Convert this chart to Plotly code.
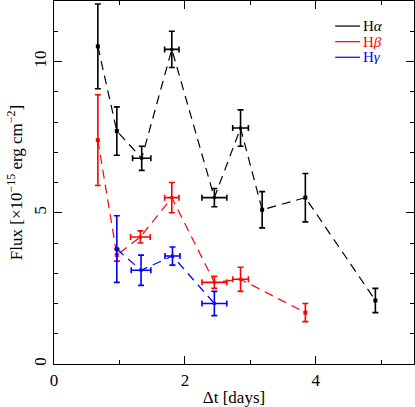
import plotly.graph_objects as go

# H-alpha
ha_t    = [0.67, 0.96, 1.34, 1.80, 2.45, 2.85, 3.18, 3.84, 4.91]
ha_terr = [0.0,  0.0,  0.14, 0.11, 0.19, 0.12, 0.0,  0.0,  0.0]
ha_f    = [10.5, 7.7,  6.8,  10.4, 5.5,  7.8,  5.1,  5.5,  2.1]
ha_ferr = [1.4,  0.8,  0.4,  0.6,  0.3,  0.6,  0.6,  0.8,  0.4]

# H-beta
hb_t    = [0.67, 0.96, 1.32, 1.80, 2.45, 2.85, 3.84]
hb_terr = [0.0,  0.0,  0.15, 0.11, 0.19, 0.12, 0.0]
hb_f    = [7.4,  3.6,  4.2,  5.5,  2.7,  2.8,  1.7]
hb_ferr = [1.5,  0.2,  0.2,  0.5,  0.2,  0.4,  0.3]

# H-gamma
hg_t    = [0.96, 1.33, 1.81, 2.45]
hg_terr = [0.0,  0.15, 0.115, 0.19]
hg_f    = [3.8,  3.1,  3.57, 2.0]
hg_ferr = [1.1,  0.5,  0.3,  0.4]

series = [
    ("H<i>α</i>", "black", ha_t, ha_terr, ha_f, ha_ferr),
    ("H<i>β</i>", "red", hb_t, hb_terr, hb_f, hb_ferr),
    ("H<i>γ</i>", "blue", hg_t, hg_terr, hg_f, hg_ferr),
]

font = "Liberation Serif"
fig = go.Figure()
line_step = 0.043  # legend row spacing (paper fraction)
for k, (name, col, t, te, f, fe) in enumerate(series):
    fig.add_trace(go.Scatter(x=t, y=f, mode="lines", line=dict(color=col, width=1.2, dash="9px,6px"),
                             showlegend=False, hoverinfo="skip"))
    idx = [i for i in range(len(t)) if te[i] > 0]
    fig.add_trace(go.Scatter(
        x=[t[i] for i in idx], y=[f[i] for i in idx], mode="markers",
        marker=dict(color=col, size=3, symbol="square"),
        error_x=dict(type="data", array=[te[i] for i in idx], color=col, thickness=1.6, width=3),
        error_y=dict(type="data", array=[fe[i] for i in idx], color=col, thickness=1.6, width=3),
        showlegend=False))
    idx = [i for i in range(len(t)) if te[i] == 0]
    fig.add_trace(go.Scatter(
        x=[t[i] for i in idx], y=[f[i] for i in idx], mode="markers",
        marker=dict(color=col, size=4, symbol="square"),
        error_y=dict(type="data", array=[fe[i] for i in idx], color=col, thickness=1.6, width=3),
        showlegend=False))
    ly = 0.931 - line_step * k
    fig.add_shape(type="line", xref="paper", yref="paper", x0=0.781, x1=0.85, y0=ly, y1=ly,
                  line=dict(color=col, width=1.2))
    fig.add_annotation(xref="paper", yref="paper", x=0.856, y=ly, xanchor="left", yanchor="middle",
                       text=name, showarrow=False, height=14, borderpad=0,
                       font=dict(family=font, size=15, color=col))

axis_common = dict(showline=True, linecolor="black", linewidth=1.2, mirror="allticks",
                   ticks="inside", ticklen=8, tickwidth=1, tickcolor="black",
                   showgrid=False, zeroline=False, automargin=False,
                   tickfont=dict(family=font, size=17, color="black"))
fig.update_xaxes(range=[0, 5.5], tickvals=[0, 2, 4], ticktext=["0", "2", "4"],
                 minor=dict(ticks="inside", ticklen=4, dtick=1, tick0=0, tickcolor="black", tickwidth=1),
                 title=dict(text="Δt [days]", font=dict(family=font, size=17, color="black"), standoff=2),
                 **axis_common)
fig.update_yaxes(range=[0, 12], tickvals=[0, 5, 10], ticktext=["0", "5", "10"], tickangle=-90,
                 minor=dict(ticks="inside", ticklen=4, dtick=1, tick0=0, tickcolor="black", tickwidth=1),
                 title=dict(text="Flux [×10<sup>−15</sup> erg cm<sup>−2</sup>]",
                            font=dict(family=font, size=17, color="black"), standoff=4),
                 **axis_common)
fig.update_layout(
    width=415, height=407, margin=dict(l=54, r=1, t=1, b=43),
    paper_bgcolor="white", plot_bgcolor="white", showlegend=False,
)
fig.write_html("out.html", config={"displayModeBar": False},
               post_script="document.body.style.margin='0px';")
